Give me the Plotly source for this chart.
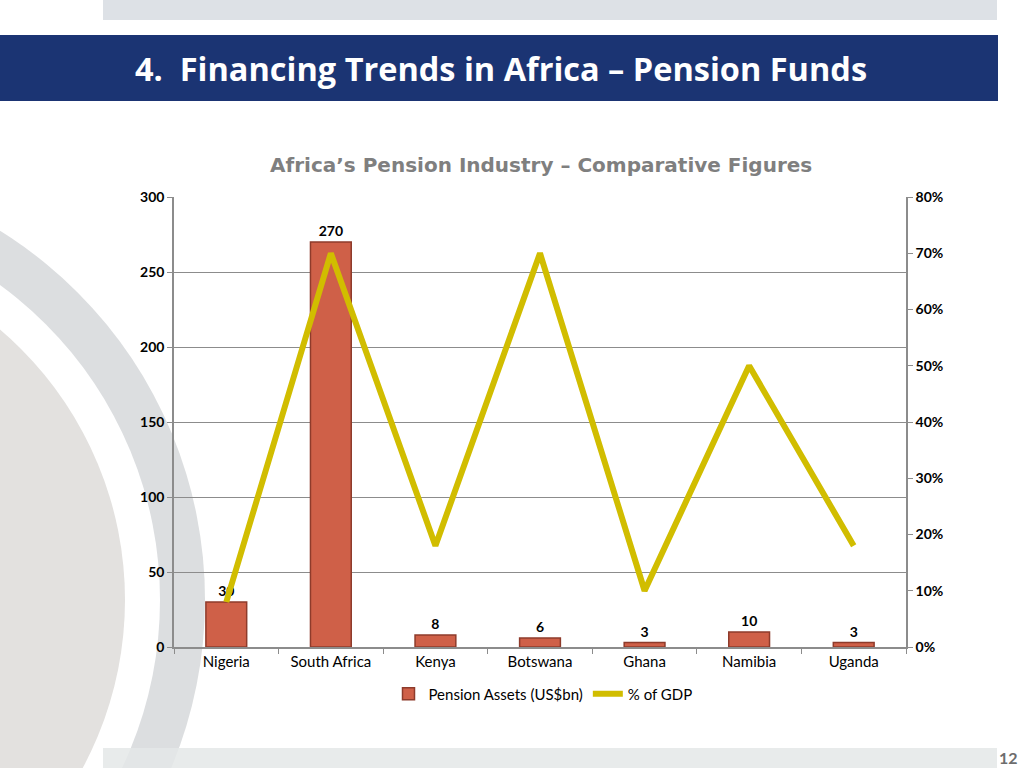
import plotly.graph_objects as go

countries = ["Nigeria", "South Africa", "Kenya", "Botswana", "Ghana", "Namibia", "Uganda"]
pension_assets = [30, 270, 8, 6, 3, 10, 3]
gdp_share = [0.08, 0.70, 0.18, 0.70, 0.10, 0.50, 0.18]
left_ticks = [0, 50, 100, 150, 200, 250, 300]
right_ticks = [0, 0.1, 0.2, 0.3, 0.4, 0.5, 0.6, 0.7, 0.8]

W, H = 1024, 768
L, R, T, B = 174, 906, 197, 647


def px(x):
    return (x - L) / (R - L)


def py(y):
    return (B - y) / (B - T)


fig = go.Figure()
fig.add_trace(go.Bar(
    x=countries, y=pension_assets, name="Pension Assets (US$bn)",
    marker=dict(color="#cf6048", line=dict(color="#8e3b2b", width=1.5)),
    width=0.39,
    text=[str(v) for v in pension_assets], textposition="outside",
    textfont=dict(family="Lato", size=14, color="#000000", weight="bold"),
    cliponaxis=False,
))
fig.add_trace(go.Scatter(
    x=countries, y=gdp_share, name="% of GDP", yaxis="y2", mode="lines",
    line=dict(color="#d1bd00", width=6),
))

shapes = [
    dict(type="rect", xref="paper", yref="paper", x0=px(103), x1=px(997), y0=py(0), y1=py(20),
         fillcolor="#dde1e6", line=dict(width=0), layer="below"),
    dict(type="rect", xref="paper", yref="paper", x0=px(0), x1=px(998), y0=py(35), y1=py(101),
         fillcolor="#1b3473", line=dict(width=0), layer="below"),
    dict(type="circle", xref="paper", yref="paper", x0=px(-230 - 435), x1=px(-230 + 435),
         y0=py(600 - 435), y1=py(600 + 435), fillcolor="#dcdee0", line=dict(width=0), layer="below"),
    dict(type="circle", xref="paper", yref="paper", x0=px(-230 - 390), x1=px(-230 + 390),
         y0=py(600 - 390), y1=py(600 + 390), fillcolor="#ffffff", line=dict(width=0), layer="below"),
    dict(type="circle", xref="paper", yref="paper", x0=px(-230 - 355), x1=px(-230 + 355),
         y0=py(600 - 355), y1=py(600 + 355), fillcolor="#e3e1df", line=dict(width=0), layer="below"),
    dict(type="rect", xref="paper", yref="paper", x0=px(103), x1=px(997), y0=py(748), y1=py(768),
         fillcolor="#e4e7e8", line=dict(width=0), layer="below", opacity=0.85),
]

annotations = [
    dict(text="<b>4.  Financing Trends in Africa – Pension Funds</b>", xref="paper", yref="paper",
         x=px(133), y=py(69), xanchor="left", yanchor="middle", showarrow=False,
         font=dict(family="Open Sans", size=32.5, color="#ffffff")),
    dict(text="<b>Africa’s Pension Industry – Comparative Figures</b>", xref="paper", yref="paper",
         x=px(541), y=py(165), xanchor="center", yanchor="middle", showarrow=False,
         font=dict(family="DejaVu Sans", size=20, color="#7f7f7f")),
    dict(text="<b>12</b>", xref="paper", yref="paper",
         x=px(1020), y=py(757), xanchor="right", yanchor="middle", showarrow=False,
         font=dict(family="Lato", size=16, color="#6d6d6d")),
]

fig.update_layout(
    width=W, height=H,
    margin=dict(l=L, r=W - R, t=T, b=H - B, pad=0),
    paper_bgcolor="#ffffff", plot_bgcolor="rgba(0,0,0,0)",
    showlegend=True,
    legend=dict(orientation="h", x=px(543), xanchor="center", y=py(694), yanchor="middle",
                font=dict(family="Lato", size=15, color="#000000"), bgcolor="rgba(0,0,0,0)",
                itemwidth=30),
    xaxis=dict(showline=True, linecolor="#8c8c8c", linewidth=1.5, ticks="outside", ticklen=5,
               tickcolor="#8c8c8c", tickson="boundaries", showgrid=False,
               tickfont=dict(family="Lato", size=15, color="#000000")),
    yaxis=dict(range=[0, 300], tickvals=left_ticks, showline=True, linecolor="#8c8c8c", linewidth=1.5,
               ticks="outside", ticklen=5, tickcolor="#8c8c8c", showgrid=True, gridcolor="#8c8c8c",
               gridwidth=1, zeroline=False,
               tickfont=dict(family="Lato", size=14, color="#000000", weight="bold")),
    yaxis2=dict(range=[0, 0.8], tickvals=right_ticks, tickformat=".0%", overlaying="y", side="right",
                showline=True, linecolor="#8c8c8c", linewidth=1.5, ticks="outside", ticklen=5,
                tickcolor="#8c8c8c", showgrid=False, zeroline=False,
                tickfont=dict(family="Lato", size=14, color="#000000", weight="bold")),
    shapes=shapes, annotations=annotations, bargap=0.6,
)

fig.write_html("out.html", config={"displayModeBar": False},
               post_script="document.body.style.margin='0';")
